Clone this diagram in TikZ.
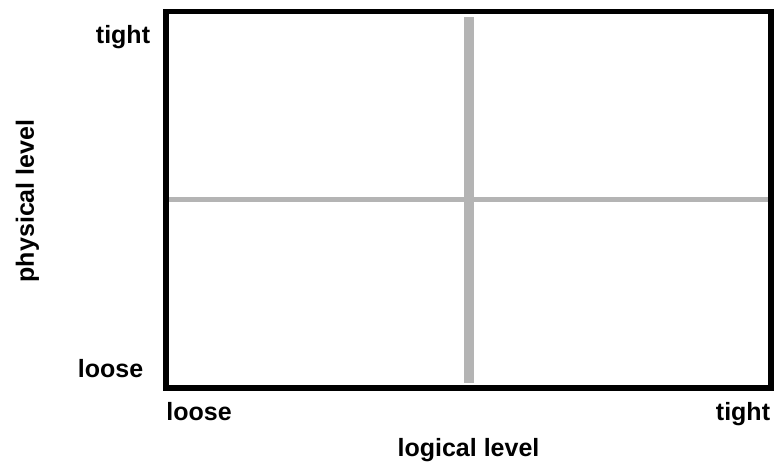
\documentclass[tikz,border=0pt]{standalone}
\usepackage{fontspec}
\setmainfont{Liberation Sans}
\usepackage{tikz}
\usetikzlibrary{positioning}
\definecolor{dividergray}{RGB}{180,180,180}

\begin{document}
\begin{tikzpicture}[
        x=1pt,
        y=1pt,
        font=\bfseries\fontsize{25}{30}\selectfont,
        frame/.style={draw=black, line width=5.5pt},
        vdivider/.style={draw=dividergray, line width=10pt},
        hdivider/.style={draw=dividergray, line width=5pt},
        tick/.style={inner sep=0pt, anchor=base}
    ]
        \useasboundingbox (0,0) rectangle (774,463);

        % quadrant box with its two dividers
        \coordinate (sw) at (166,75);
        \coordinate (ne) at (771,451.5);
        \coordinate (vtop) at (469,446);
        \coordinate (vbot) at (469,80);
        \coordinate (hleft) at (169,263.5);
        \coordinate (hright) at (768,263.5);
        \draw[hdivider] (hleft) -- (hright);
        \draw[vdivider] (vbot) -- (vtop);
        \draw[frame] (sw) rectangle (ne);

        % tick labels
        \node[tick] (ytight) at (123,419) {tight};
        \node[tick] (yloose) at (110.5,85) {loose};
        \node[tick] (xloose) at (199,42) {loose};
        \node[tick] (xtight) at (743,42) {tight};

        % axis titles
        \node[tick] (xtitle) at (468.5,6) {logical level};
        \node[tick, rotate=90] (ytitle) at (34,262) {physical level};
    \end{tikzpicture}
\end{document}
